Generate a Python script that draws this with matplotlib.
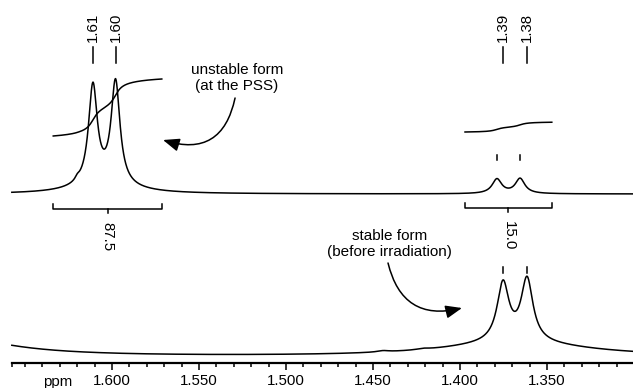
import numpy as np
import matplotlib.pyplot as plt
from matplotlib.ticker import FixedLocator, FormatStrFormatter

plt.rcParams['font.family'] = ['Liberation Sans', 'DejaVu Sans']

# peaks: position (ppm), height, half width (ppm)
top_ppm = [1.620, 1.611, 1.598, 1.605, 1.3788, 1.3655]
top_height = [3, 99, 103, 8, 14.5, 15]
top_width = [0.0015, 0.00307, 0.00307, 0.02, 0.0033, 0.0033]

bottom_ppm = [1.3753, 1.3615, 1.368, 1.70, 1.4443, 1.4213]
bottom_height = [58, 62, 14, 24, 1.3, 1.0]
bottom_width = [0.0041, 0.0041, 0.05, 0.04, 0.004, 0.004]

# integrals of the upper spectrum
int_ranges = [(1.6339, 1.5713), (1.3972, 1.3472)]
int_values = [87.5, 15.0]

# peak picking labels
label_ppm = [1.611, 1.598, 1.3753, 1.3615]
label_text = ['1.61', '1.60', '1.39', '1.38']

top_marks = [1.3788, 1.3655]
bottom_marks = [1.3753, 1.3615]


def lorentz(x, pos, h, w):
    return h / (1 + ((x - pos) / w) ** 2)


def spectrum(x, pos, hts, wds):
    y = np.zeros_like(x)
    for p, h, w in zip(pos, hts, wds):
        y += lorentz(x, p, h, w)
    return y


x = np.linspace(1.6576, 1.3006, 3000)
top_base, bot_base = 194, 31
top_sig = spectrum(x, top_ppm, top_height, top_width)
bot_sig = spectrum(x, bottom_ppm, bottom_height, bottom_width)

fig = plt.figure(figsize=(6.33, 3.88), dpi=100)
ax = fig.add_axes([0, 0, 1, 1])
ax.set_xlim(1.6644, 1.3006)
ax.set_ylim(0, 388)

lw = 1.1
ax.plot(x, top_base + top_sig, color='black', lw=lw)
ax.plot(x, bot_base + bot_sig, color='black', lw=lw)

# integral traces and brackets
k = 57 / 87.5
starts = [252, 256]
brackets = [179, 180]
for (hi, lo), val, y0, yb in zip(int_ranges, int_values, starts, brackets):
    m = (x <= hi) & (x >= lo)
    cum = np.cumsum(top_sig[m])
    cum = cum / cum[-1]
    ax.plot(x[m], y0 + val * k * cum, color='black', lw=lw)
    ax.plot([hi, hi, lo, lo], [yb + 5, yb, yb, yb + 5], color='black', lw=lw)
    mid = (hi + lo) / 2
    ax.plot([mid, mid], [yb, yb - 4], color='black', lw=lw)
    ax.text(mid, yb - 13, f'{val:.1f}', rotation=-90, ha='center', va='top',
            fontsize=10.8)

# peak labels
for p, t in zip(label_ppm, label_text):
    ax.plot([p, p], [325, 341], color='black', lw=lw)
    ax.text(p, 346, t, rotation=90, ha='center', va='bottom', fontsize=10.8)
for p in top_marks:
    ax.plot([p, p], [228, 233], color='black', lw=lw)
for p in bottom_marks:
    ax.plot([p, p], [115, 121], color='black', lw=lw)

# annotations
arrow = '-|>,head_length=0.55,head_width=0.22'
ax.text(1.5282, 310, 'unstable form\n(at the PSS)', ha='center', va='center',
        fontsize=11, linespacing=1.2)
ax.annotate('', xy=(1.5707, 248), xytext=(1.5293, 290),
            arrowprops=dict(arrowstyle=arrow, color='black', lw=lw,
                            mutation_scale=18, shrinkA=0, shrinkB=0,
                            connectionstyle='arc3,rad=-0.55'))
ax.text(1.4403, 144, 'stable form\n(before irradiation)', ha='center',
        va='center', fontsize=11, linespacing=1.2)
ax.annotate('', xy=(1.3989, 80), xytext=(1.4414, 125),
            arrowprops=dict(arrowstyle=arrow, color='black', lw=lw,
                            mutation_scale=18, shrinkA=0, shrinkB=0,
                            connectionstyle='arc3,rad=0.5'))

# ppm ruler
for s in ['top', 'left', 'right']:
    ax.spines[s].set_visible(False)
ax.spines['bottom'].set_position(('data', 25))
ax.spines['bottom'].set_bounds(1.6576, 1.3006)
ax.spines['bottom'].set_linewidth(1.6)
ax.yaxis.set_visible(False)
ax.xaxis.set_major_locator(FixedLocator([1.60, 1.55, 1.50, 1.45, 1.40, 1.35]))
ax.xaxis.set_minor_locator(FixedLocator([1.6576] + list(np.round(np.arange(1.65, 1.30, -0.01), 2))))
ax.xaxis.set_major_formatter(FormatStrFormatter('%.3f'))
ax.tick_params(axis='x', which='major', direction='out', length=5, width=1.1,
               labelsize=10.8, pad=3)
ax.tick_params(axis='x', which='minor', direction='out', length=3, width=1.1)
ax.text(1.6311, 6, 'ppm', ha='center', va='center', fontsize=10.8)

fig.savefig('out.png', dpi=100)
